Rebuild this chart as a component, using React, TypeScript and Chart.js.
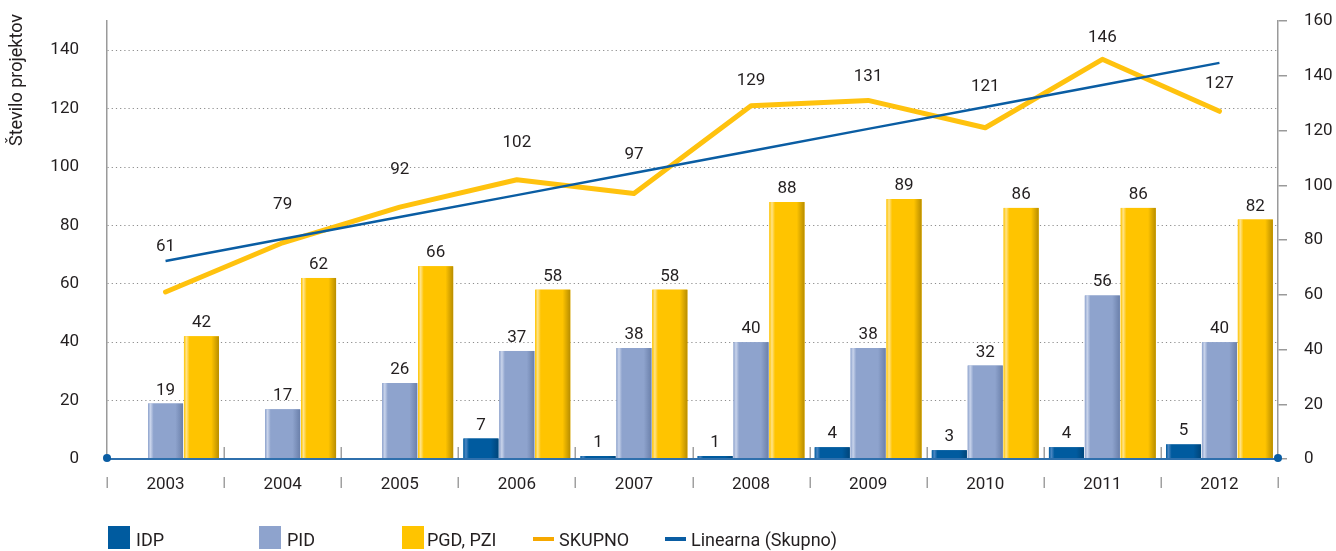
import React, { useEffect, useRef } from "react";
import { Chart, registerables } from "chart.js";

Chart.register(...registerables);

// ---------- data ----------
const years = ["2003", "2004", "2005", "2006", "2007", "2008", "2009", "2010", "2011", "2012"];
const idp = [null, null, null, 7, 1, 1, 4, 3, 4, 5];
const pid = [19, 17, 26, 37, 38, 40, 38, 32, 56, 40];
const pgd = [42, 62, 66, 58, 58, 88, 89, 86, 86, 82];
const skupno = [61, 79, 92, 102, 97, 129, 131, 121, 146, 127];
const trend = [72.3, 80.4, 88.4, 96.4, 104.5, 112.5, 120.6, 128.6, 136.6, 144.7];
const leftTicks = [0, 20, 40, 60, 80, 100, 120, 140];
const rightTicks = [0, 20, 40, 60, 80, 100, 120, 140, 160];
const yTitle = "Število projektov";

// ---------- styles ----------
const FONT = "Roboto, 'Noto Sans', sans-serif";
const TEXT = "#231f20";
const skupnoLabelOffsets = [47, 40, 39, 39, 40, 27, 25, 43, 23, 29];
const barShades: [string, string, string][] = [
  ["#4a86c2", "#005b9f", "#00457a"],
  ["#c9d4eb", "#8ea3cd", "#6b80aa"],
  ["#ffe38a", "#ffc400", "#b88d00"],
];

const legendItems = [
  { label: "IDP", kind: "box", color: "#005b9f", x: 108, tx: 136 },
  { label: "PID", kind: "box", color: "#8ea3cd", x: 259, tx: 287 },
  { label: "PGD, PZI", kind: "box", color: "#ffc400", x: 402, tx: 427 },
  { label: "SKUPNO", kind: "line", color: "#f6a800", x: 533, tx: 559 },
  { label: "Linearna (Skupno)", kind: "line", color: "#0a5da3", x: 665, tx: 691 },
];

const decorPlugin = {
  id: "decor",
  afterDatasetDraw(chart: any, args: any) {
    const meta = chart.getDatasetMeta(args.index);
    if (meta.type !== "bar") return;
    const shadeIdx = args.index - 2;
    const [hi, base, dark] = barShades[shadeIdx];
    const ctx = chart.ctx;
    ctx.save();
    meta.data.forEach((el: any) => {
      const p = el.getProps(["x", "y", "base", "width"], true);
      if (p.y == null || isNaN(p.y) || p.base - p.y < 0.5) return;
      const left = p.x - p.width / 2;
      const g = ctx.createLinearGradient(left, 0, left + p.width, 0);
      g.addColorStop(0, base);
      g.addColorStop(0.07, hi);
      g.addColorStop(0.16, base);
      g.addColorStop(0.78, base);
      g.addColorStop(1, dark);
      ctx.fillStyle = g;
      ctx.fillRect(left, p.y, p.width, p.base - p.y);
    });
    ctx.restore();
  },
  afterDatasetsDraw(chart: any) {
    const ctx = chart.ctx;
    const { left, right, bottom } = chart.chartArea;
    const xs = chart.scales.x;
    const n = years.length;
    const step = (right - left) / n;
    ctx.save();
    // category boundary marks
    ctx.strokeStyle = "#a0a0a0";
    ctx.lineWidth = 1.5;
    for (let i = 0; i <= n; i++) {
      const bx = Math.round(left + i * step) + 0.25;
      ctx.beginPath();
      ctx.moveTo(bx, bottom + 18);
      ctx.lineTo(bx, bottom + 29);
      ctx.stroke();
      if (i > 0 && i < n) {
        ctx.beginPath();
        ctx.moveTo(bx, bottom - 12);
        ctx.lineTo(bx, bottom - 1);
        ctx.stroke();
      }
    }
    // blue axis line
    ctx.strokeStyle = "#2f70ad";
    ctx.lineWidth = 2;
    ctx.beginPath();
    ctx.moveTo(left, bottom);
    ctx.lineTo(right, bottom);
    ctx.stroke();
    ctx.fillStyle = "#0a5da3";
    [left, right].forEach((px) => {
      ctx.beginPath();
      ctx.arc(px, bottom - 1, 4, 0, Math.PI * 2);
      ctx.fill();
    });
    // bar labels
    ctx.font = `17px ${FONT}`;
    ctx.fillStyle = TEXT;
    ctx.textAlign = "center";
    ctx.textBaseline = "alphabetic";
    [2, 3, 4].forEach((di) => {
      const meta = chart.getDatasetMeta(di);
      const data = chart.data.datasets[di].data;
      meta.data.forEach((el: any, i: number) => {
        const v = data[i];
        if (v == null) return;
        const p = el.getProps(["x", "y"], true);
        ctx.fillText(String(v), p.x, p.y - 9);
      });
    });
    // SKUPNO labels
    const lm = chart.getDatasetMeta(0);
    lm.data.forEach((el: any, i: number) => {
      const p = el.getProps(["x", "y"], true);
      ctx.fillText(String(skupno[i]), xs.getPixelForValue(i), p.y - skupnoLabelOffsets[i] + 6);
    });
    // y title
    ctx.translate(17, 80);
    ctx.rotate(-Math.PI / 2);
    ctx.font = `18px ${FONT}`;
    ctx.textBaseline = "middle";
    ctx.fillText(yTitle, 0, 0);
    ctx.restore();
  },
};

const noPad = (s: any) => {
  s.paddingTop = 0;
  s.paddingBottom = 0;
};

export default function App() {
  const ref = useRef<HTMLCanvasElement | null>(null);
  useEffect(() => {
    if (!ref.current) return;
    const chart = new Chart(ref.current, {
      type: "bar",
      data: {
        labels: years,
        datasets: [
          {
            type: "line",
            label: "SKUPNO",
            data: skupno,
            yAxisID: "y1",
            borderColor: "#ffc20e",
            borderWidth: 5,
            pointRadius: 0,
            borderCapStyle: "round",
            borderJoinStyle: "round",
            tension: 0,
            order: 1,
          },
          {
            type: "line",
            label: "Linearna (Skupno)",
            data: trend,
            yAxisID: "y1",
            borderColor: "#0a5da3",
            borderWidth: 2.5,
            pointRadius: 0,
            tension: 0,
            order: 0,
          },
          { label: "IDP", data: idp, backgroundColor: "#005b9f", yAxisID: "y", order: 2 },
          { label: "PID", data: pid, backgroundColor: "#8ea3cd", yAxisID: "y", order: 3 },
          { label: "PGD, PZI", data: pgd, backgroundColor: "#ffc400", yAxisID: "y", order: 4 },
        ] as any,
      },
      options: {
        animation: false,
        responsive: false,
        maintainAspectRatio: false,
        layout: { padding: { top: 21, left: 0, right: 0, bottom: 0 } },
        datasets: { bar: { categoryPercentage: 0.92, barPercentage: 0.975 } } as any,
        plugins: { legend: { display: false }, tooltip: { enabled: false } },
        scales: {
          x: {
            grid: { display: false, drawTicks: false },
            border: { display: false },
            ticks: { font: { family: FONT, size: 17 }, color: TEXT, padding: 16 },
            afterFit: (s: any) => {
              s.height = 92;
              s.paddingLeft = 0;
              s.paddingRight = 0;
            },
          },
          y: {
            position: "left",
            min: 0,
            max: 150,
            afterBuildTicks: (s: any) => {
              s.ticks = leftTicks.map((v) => ({ value: v }));
            },
            grid: { color: "#8c8c8c", lineWidth: 1, drawTicks: false },
            border: { display: true, color: "#9a9a9a", width: 1.5, dash: [1.2, 3] },
            ticks: { font: { family: FONT, size: 17 }, color: TEXT, padding: 28 },
            afterFit: (s: any) => {
              s.width = 107;
              noPad(s);
            },
          },
          y1: {
            position: "right",
            min: 0,
            max: 160,
            afterBuildTicks: (s: any) => {
              s.ticks = rightTicks.map((v) => ({ value: v }));
            },
            grid: { drawOnChartArea: false, drawTicks: true, tickLength: 9, color: "#9a9a9a", lineWidth: 1.5 },
            border: { display: true, color: "#9a9a9a", width: 1.5 },
            ticks: { font: { family: FONT, size: 17 }, color: TEXT, padding: 17 },
            afterFit: (s: any) => {
              s.width = 58;
              noPad(s);
            },
          },
        },
      } as any,
      plugins: [decorPlugin],
    });
    return () => chart.destroy();
  }, []);

  return (
    <div style={{ position: "absolute", left: 0, top: 0, width: 1336, height: 551, overflow: "hidden", background: "#fff" }}>
      <canvas ref={ref} width={1336} height={551} style={{ position: "absolute", left: 0, top: 0, width: 1336, height: 551 }} />
      {legendItems.map((it) => (
        <React.Fragment key={it.label}>
          {it.kind === "box" ? (
            <div style={{ position: "absolute", left: it.x, top: 526, width: 22, height: 23, background: it.color }} />
          ) : (
            <div style={{ position: "absolute", left: it.x, top: 537, width: 21, height: 4, background: it.color }} />
          )}
          <div
            style={{
              position: "absolute",
              left: it.tx,
              top: 531,
              fontFamily: FONT,
              fontSize: 18,
              lineHeight: "18px",
              color: TEXT,
              whiteSpace: "nowrap",
            }}
          >
            {it.label}
          </div>
        </React.Fragment>
      ))}
    </div>
  );
}
